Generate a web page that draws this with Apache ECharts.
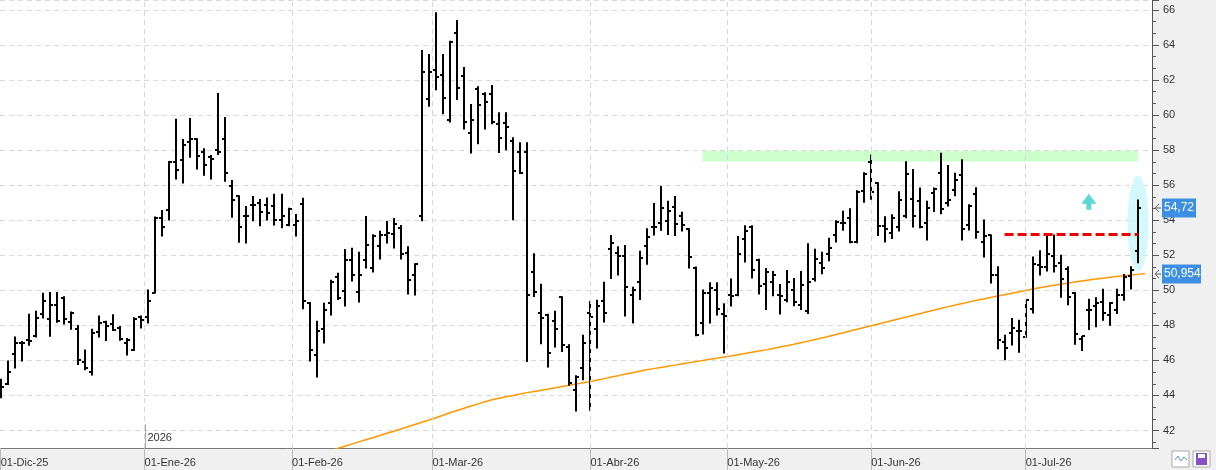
<!DOCTYPE html>
<html>
<head>
<meta charset="utf-8">
<script src="https://cdn.jsdelivr.net/npm/echarts@6/dist/echarts.min.js"></script>
<style>
html, body { margin: 0; padding: 0; background: #fff; }
#chart { width: 1216px; height: 470px; }
</style>
</head>
<body>
<div id="chart"></div>
<script>
// trading calendar (BME): weekdays minus these holidays
var firstDay = [2025, 11, 1];
var holidays = ['2025-12-25', '2025-12-26', '2026-01-01', '2026-04-03', '2026-04-06', '2026-05-01'];
var monthNames = ['Ene', 'Feb', 'Mar', 'Abr', 'May', 'Jun', 'Jul', 'Ago', 'Sep', 'Oct', 'Nov', 'Dic'];

// daily OHLC, one value per session
var opens = [44.2, 44.65, 46.36, 47.0, 47.14, 47.4, 48.64, 48.36, 49.17, 49.55, 48.2, 47.82, 45.9, 45.33, 47.63, 48.2, 48.1, 47.86, 47.0, 46.59, 48.5,
  48.47, 49.87, 54.15, 54.6, 57.33, 57.43, 58.47, 58.62, 57.9, 57.6, 58.0, 58.62, 55.94, 55.37, 54.25, 54.86, 55.0, 54.86, 54.8, 54.0, 53.72,
  53.72, 54.93, 49.28, 46.3, 47.79, 49.27, 50.75, 49.95, 51.74, 49.9, 51.74, 51.27, 52.52, 53.15, 53.2, 53.56, 52.12, 50.86,
  54.23, 60.9, 62.56, 62.27, 59.71, 64.67, 62.21, 59.0, 61.48, 61.19, 61.19, 59.48, 59.54, 58.5, 57.88, 57.88, 51.04, 48.72, 48.6, 48.24, 49.61, 46.78, 44.32, 45.56,
  48.7, 47.79, 49.38, 52.35, 52.12, 51.95, 49.72, 50.47, 52.52, 53.64, 53.85, 53.95, 54.75, 54.23, 53.48, 51.27, 48.16, 49.84, 50.01, 48.62,
  49.72, 49.72, 52.92, 53.62, 51.74, 50.37, 50.47, 49.72, 49.46, 50.03, 49.17, 48.81, 50.62, 51.57, 52.06, 53.15, 53.87, 54.12, 52.75, 55.66,
  57.31, 56.11, 53.66, 53.28, 53.6, 54.23, 55.2, 55.09, 53.83, 55.54, 56.69, 55.01, 55.72, 56.59, 53.72, 55.5, 52.77, 53.13, 50.86, 47.04, 47.56, 47.69,
  47.33, 48.94, 51.44, 51.32, 51.98, 51.55, 51.21, 49.84, 47.21, 48.89, 49.11, 49.33, 48.6, 48.85, 49.74, 50.79, 52.27];
var highs = [44.9, 45.94, 47.3, 47.05, 48.6, 48.77, 49.8, 49.85, 49.85, 49.6, 48.73, 47.97, 46.56, 47.75, 48.5, 48.2, 48.58, 47.9, 47.22, 48.41, 48.5,
  49.99, 54.15, 54.53, 57.33, 59.73, 58.58, 59.78, 58.62, 58.05, 57.67, 61.2, 59.84, 56.24, 55.37, 54.76, 55.33, 55.16, 55.24, 55.45, 55.45, 54.65,
  54.3, 55.22, 49.28, 48.2, 49.23, 50.54, 50.94, 52.3, 52.37, 52.14, 54.19, 53.15, 53.34, 53.9, 54.07, 53.67, 52.46, 51.49,
  63.66, 63.43, 65.81, 63.43, 64.19, 65.37, 62.69, 60.58, 61.59, 61.25, 61.66, 60.1, 60.1, 58.68, 58.4, 58.4, 52.06, 50.32, 48.6, 48.77, 49.61, 46.87, 45.1, 47.4,
  49.33, 49.4, 50.43, 53.1, 52.46, 52.53, 50.14, 52.2, 53.48, 54.92, 55.9, 55.05, 55.33, 54.42, 53.48, 51.3, 49.99, 50.41, 50.41, 49.21,
  50.62, 53.05, 53.66, 53.66, 51.74, 51.22, 51.04, 50.3, 51.1, 50.65, 51.04, 52.63, 52.31, 52.14, 52.94, 53.94, 54.48, 54.63, 55.66, 56.68,
  57.68, 56.11, 54.17, 54.29, 55.6, 57.31, 56.87, 55.81, 55.05, 55.81, 57.8, 57.1, 56.65, 57.43, 54.86, 55.83, 53.98, 53.13, 51.32, 47.4, 48.36, 48.26,
  49.44, 51.87, 52.23, 53.13, 53.13, 51.97, 51.32, 49.84, 47.33, 49.46, 49.55, 50.03, 49.27, 50.03, 50.88, 51.32, 55.12];
var lows = [43.9, 44.65, 45.6, 46.0, 46.9, 47.36, 48.45, 47.4, 48.2, 48.1, 47.8, 45.8, 45.5, 45.2, 47.36, 47.16, 47.73, 47.18, 46.34, 46.59, 47.88,
  48.16, 49.87, 53.13, 54.04, 56.38, 56.15, 57.62, 56.95, 56.6, 56.38, 57.78, 56.26, 54.2, 52.77, 52.73, 54.0, 53.72, 54.04, 53.75, 53.6, 53.72,
  53.13, 48.98, 45.99, 45.08, 47.02, 48.62, 49.5, 49.13, 50.56, 49.36, 51.3, 51.07, 51.81, 52.73, 52.44, 51.81, 49.82, 49.76,
  54.0, 60.54, 61.48, 60.1, 59.63, 60.92, 59.23, 57.86, 58.4, 59.23, 59.53, 57.9, 58.05, 54.06, 56.69, 45.96, 49.68, 46.98, 45.65, 46.8, 46.53, 44.61, 43.14, 44.93,
  43.18, 46.74, 48.22, 50.7, 50.9, 48.56, 48.16, 49.5, 51.51, 53.18, 53.45, 53.22, 53.16, 53.41, 51.3, 47.44, 47.53, 48.16, 48.62, 46.45,
  49.13, 49.72, 51.64, 50.73, 49.82, 48.93, 49.72, 48.67, 49.38, 49.15, 48.93, 48.7, 50.56, 50.98, 51.72, 52.78, 53.45, 52.75, 52.75, 55.05,
  55.22, 53.16, 52.78, 52.99, 53.41, 54.17, 53.64, 53.6, 52.9, 54.53, 54.4, 54.84, 55.43, 52.9, 53.47, 53.0, 51.93, 50.45, 46.7, 46.07, 46.91, 46.5,
  47.33, 48.73, 50.9, 51.13, 51.07, 49.63, 49.21, 46.95, 46.6, 47.79, 47.95, 48.32, 48.03, 48.7, 49.46, 50.1, 51.6];
var closes = [44.5, 45.33, 47.0, 46.98, 47.1, 48.43, 49.38, 49.19, 48.26, 48.36, 48.68, 46.0, 45.56, 47.57, 48.15, 47.96, 47.76, 47.23, 47.18, 48.39, 48.3,
  49.38, 54.1, 53.62, 57.33, 56.87, 58.28, 58.62, 57.67, 57.14, 57.52, 57.9, 56.68, 55.14, 53.6, 54.25, 54.86, 54.48, 54.4, 54.0, 54.25, 54.63,
  53.95, 49.38, 46.58, 47.67, 48.87, 50.49, 49.55, 51.74, 50.88, 50.88, 52.58, 53.1, 53.15, 53.26, 53.78, 52.06, 50.58, 51.49,
  62.46, 62.46, 62.16, 60.96, 64.16, 61.53, 59.63, 59.71, 60.56, 60.73, 59.63, 58.68, 59.33, 56.8, 56.69, 49.72, 49.9, 48.41, 46.42, 47.79, 46.87, 44.7, 45.08, 47.0,
  48.47, 49.1, 48.7, 52.71, 51.95, 50.18, 50.03, 51.84, 53.04, 53.6, 54.69, 54.52, 53.79, 53.74, 51.89, 47.44, 49.84, 50.12, 48.93, 48.56,
  49.68, 52.06, 53.41, 51.17, 50.24, 51.05, 50.87, 49.68, 50.47, 49.36, 50.3, 50.48, 51.78, 51.27, 52.41, 53.9, 53.83, 52.75, 55.6, 56.62,
  55.6, 53.66, 53.49, 54.12, 55.16, 56.65, 54.23, 53.64, 54.69, 55.77, 54.63, 55.16, 56.32, 53.51, 54.82, 53.32, 53.09, 50.86, 47.18, 46.7, 47.84, 47.7,
  49.44, 51.49, 51.32, 52.08, 51.39, 50.64, 49.64, 47.5, 47.4, 48.9, 49.3, 48.7, 49.27, 49.74, 50.75, 51.17, 54.72];

// long moving average, read from session 47 onwards
var maStart = 47;
var maValues = [40.85, 40.97, 41.10, 41.22, 41.35, 41.47, 41.59, 41.71, 41.84, 41.96, 42.08, 42.21, 42.34, 42.47,
  42.60, 42.73, 42.87, 43.01, 43.14, 43.27, 43.40, 43.52, 43.64, 43.75, 43.84, 43.92, 44.00, 44.08, 44.16, 44.23,
  44.30, 44.37, 44.44, 44.51, 44.58, 44.65, 44.72, 44.80, 44.88, 44.96, 45.05, 45.13, 45.22, 45.30, 45.38, 45.46,
  45.53, 45.60, 45.67, 45.73, 45.80, 45.86, 45.93, 45.99, 46.06, 46.12, 46.19, 46.25, 46.32, 46.39, 46.46, 46.53,
  46.60, 46.68, 46.76, 46.84, 46.92, 47.01, 47.10, 47.19, 47.28, 47.38, 47.48, 47.58, 47.68, 47.78, 47.88, 47.98,
  48.08, 48.18, 48.28, 48.38, 48.48, 48.58, 48.68, 48.78, 48.88, 48.98, 49.07, 49.16, 49.25, 49.34, 49.43, 49.51,
  49.59, 49.67, 49.75, 49.83, 49.91, 49.99, 50.07, 50.15, 50.22, 50.29, 50.35, 50.41, 50.47, 50.53, 50.59, 50.64,
  50.69, 50.74, 50.79, 50.83, 50.87, 50.91, 50.954];

// annotations
var zoneLow = 57.35, zoneHigh = 57.95, zoneFrom = 100;
var resistLevel = 53.2, resistFrom = 143;
var arrowAt = [155, 55.05];
var ellipseAt = [162, 53.82];
var lastPrice = 54.72, lastAverage = 50.954;
var yearLabel = '2026';
var emptySlots = 2;

function buildDays(n) {
  var out = [];
  var d = new Date(Date.UTC(firstDay[0], firstDay[1], firstDay[2]));
  while (out.length < n) {
    var wd = d.getUTCDay();
    var s = d.toISOString().slice(0, 10);
    if (wd !== 0 && wd !== 6 && holidays.indexOf(s) < 0) out.push(s);
    d.setUTCDate(d.getUTCDate() + 1);
  }
  return out;
}
var days = buildDays(opens.length);

// month boundaries: on the session if the 1st traded, else between sessions
var monthPos = [], monthText = {};
days.forEach(function (s, i) {
  if (i === 0 || s.slice(5, 7) !== days[i - 1].slice(5, 7)) {
    var p = s.slice(8) === '01' ? i : i - 0.5;
    monthPos.push(p);
    monthText[p] = '01-' + monthNames[+s.slice(5, 7) - 1] + '-' + s.slice(2, 4);
  }
});
var yearPos = monthPos[1];

function comma(v) { return String(v).replace('.', ','); }

var last = opens.length - 1;
var ohlc = opens.map(function (o, i) { return [i, o, highs[i], lows[i], closes[i]]; });
var maData = maValues.map(function (v, k) { return [maStart + k, v]; });

var font = 'Liberation Sans, Arial, sans-serif';
var grid = '#d8d8d8';
var panel = '#f0f0f0';
var chart = echarts.init(document.getElementById('chart'));

chart.setOption({
  backgroundColor: '#fff',
  animation: false,
  grid: { left: 0, right: 64, top: 0, bottom: 22, containLabel: false, outerBoundsMode: 'none' },
  xAxis: {
    type: 'value',
    min: -0.1,
    max: last + emptySlots,
    axisLine: { onZero: false, lineStyle: { color: '#777' } },
    axisTick: { customValues: monthPos, length: 22, lineStyle: { color: '#bbb' } },
    axisLabel: {
      customValues: monthPos,
      formatter: function (v) { return monthText[v] || ''; },
      align: 'left', margin: 9, color: '#333', fontSize: 11, fontFamily: font
    },
    splitLine: { show: false },
    minorSplitLine: { show: false }
  },
  yAxis: {
    type: 'value',
    position: 'right',
    min: 41,
    max: 66.57,
    minInterval: 2,
    maxInterval: 2,
    axisLine: { show: true, onZero: false, lineStyle: { color: '#555' } },
    axisTick: { show: true, length: 7, lineStyle: { color: '#555' } },
    minorTick: { show: true, splitNumber: 3, length: 4, lineStyle: { color: '#555' } },
    axisLabel: { showMinLabel: false, showMaxLabel: false, margin: 11, color: '#333', fontSize: 11, fontFamily: font },
    splitLine: { show: true, lineStyle: { color: grid, type: [5, 4] } }
  },
  series: [
    {
      type: 'scatter',
      data: [ellipseAt],
      symbol: 'circle',
      symbolSize: [21, 96],
      itemStyle: { color: '#c9f8fb' },
      silent: true,
      z: 1,
      markLine: {
        silent: true,
        symbol: 'none',
        label: { show: false },
        lineStyle: { color: grid, width: 1, type: [5, 4] },
        data: monthPos.slice(1).map(function (p) { return { xAxis: p }; })
      }
    },
    {
      type: 'line',
      data: maData,
      showSymbol: false,
      lineStyle: { color: '#ff9800', width: 1.5 },
      silent: true,
      z: 2,
      markArea: {
        silent: true,
        itemStyle: { color: '#ccffcc' },
        data: [[{ xAxis: zoneFrom, yAxis: zoneLow }, { xAxis: last, yAxis: zoneHigh }]]
      }
    },
    {
      type: 'custom',
      data: ohlc,
      encode: { x: 0, y: [1, 2, 3, 4] },
      z: 3,
      renderItem: function (params, api) {
        var i = api.value(0);
        var hi = api.coord([i, api.value(2)]);
        var lo = api.coord([i, api.value(3)]);
        var op = api.coord([i, api.value(1)]);
        var cl = api.coord([i, api.value(4)]);
        var x = Math.round(hi[0]);
        var st = { stroke: '#000', lineWidth: 2 };
        return {
          type: 'group',
          children: [
            { type: 'line', shape: { x1: x, y1: hi[1] - 1, x2: x, y2: lo[1] + 1 }, style: st },
            { type: 'line', shape: { x1: x - 3, y1: Math.round(op[1]), x2: x, y2: Math.round(op[1]) }, style: st },
            { type: 'line', shape: { x1: x, y1: Math.round(cl[1]), x2: x + 3, y2: Math.round(cl[1]) }, style: st }
          ]
        };
      }
    },
    {
      type: 'scatter',
      data: [arrowAt],
      symbol: 'path://M7.5,0 L15,10 L10,10 L10,16 L5,16 L5,10 L0,10 Z',
      symbolSize: [15, 16],
      itemStyle: { color: '#33cccc' },
      silent: true,
      z: 4,
      markLine: {
        silent: true,
        symbol: 'none',
        label: { show: false },
        lineStyle: { color: '#ee0000', width: 3, type: [9, 4] },
        data: [[{ xAxis: resistFrom, yAxis: resistLevel }, { xAxis: last, yAxis: resistLevel }]]
      }
    }
  ]
});

// panels, price tags on the right axis and the year marker
function tag(value, text, w) {
  var y = Math.round(chart.convertToPixel({ yAxisIndex: 0 }, value));
  var ax = chart.getWidth() - 64;
  return [
    { type: 'polyline', shape: { points: [[ax + 7, y - 4], [ax + 3, y], [ax + 7, y + 4]] }, style: { stroke: '#666', lineWidth: 1, fill: null }, z: 50 },
    { type: 'line', shape: { x1: ax + 3, y1: y, x2: ax + 9, y2: y }, style: { stroke: '#666', lineWidth: 1 }, z: 50 },
    { type: 'rect', shape: { x: ax + 10, y: y - 9.5, width: w, height: 19 }, style: { fill: '#3d8fe3' }, z: 50 },
    { type: 'text', x: ax + 12, y: y, style: { text: text, fill: '#fff', font: '12px ' + font, verticalAlign: 'middle' }, z: 51 }
  ];
}
var W = chart.getWidth(), H = chart.getHeight();
var yx = Math.round(chart.convertToPixel({ xAxisIndex: 0 }, yearPos)) + 0.5;
var bottom = H - 22;
chart.setOption({
  graphic: [
    { type: 'rect', shape: { x: 0, y: bottom, width: W, height: 22 }, style: { fill: panel }, z: -10, silent: true },
    { type: 'rect', shape: { x: W - 64, y: 0, width: 64, height: H }, style: { fill: panel }, z: -10, silent: true }
  ].concat(tag(lastPrice, comma(lastPrice), 34))
    .concat(tag(lastAverage, comma(lastAverage), 39))
    .concat([
      { type: 'line', shape: { x1: yx, y1: bottom - 24, x2: yx, y2: bottom }, style: { stroke: '#aaa', lineWidth: 1 }, z: 40 },
      { type: 'text', x: yx + 2, y: bottom - 10, style: { text: yearLabel, fill: '#333', font: '11px ' + font, verticalAlign: 'middle' }, z: 40 },
      { type: 'rect', shape: { x: 1172, y: 451, width: 17, height: 16 }, style: { fill: '#fff', stroke: '#aaa' }, z: 40 },
      { type: 'polyline', shape: { points: [[1175, 460], [1178, 456], [1181, 461], [1184, 457], [1187, 460]] }, style: { stroke: '#5b9bd5', lineWidth: 1, fill: null }, z: 41 },
      { type: 'rect', shape: { x: 1193, y: 451, width: 17, height: 16 }, style: { fill: '#fff', stroke: '#aaa' }, z: 40 },
      { type: 'rect', shape: { x: 1196, y: 453, width: 11, height: 12 }, style: { fill: '#8a4fc7' }, z: 41 },
      { type: 'rect', shape: { x: 1198, y: 454, width: 7, height: 4 }, style: { fill: '#fff' }, z: 42 }
    ])
});
</script>
</body>
</html>
